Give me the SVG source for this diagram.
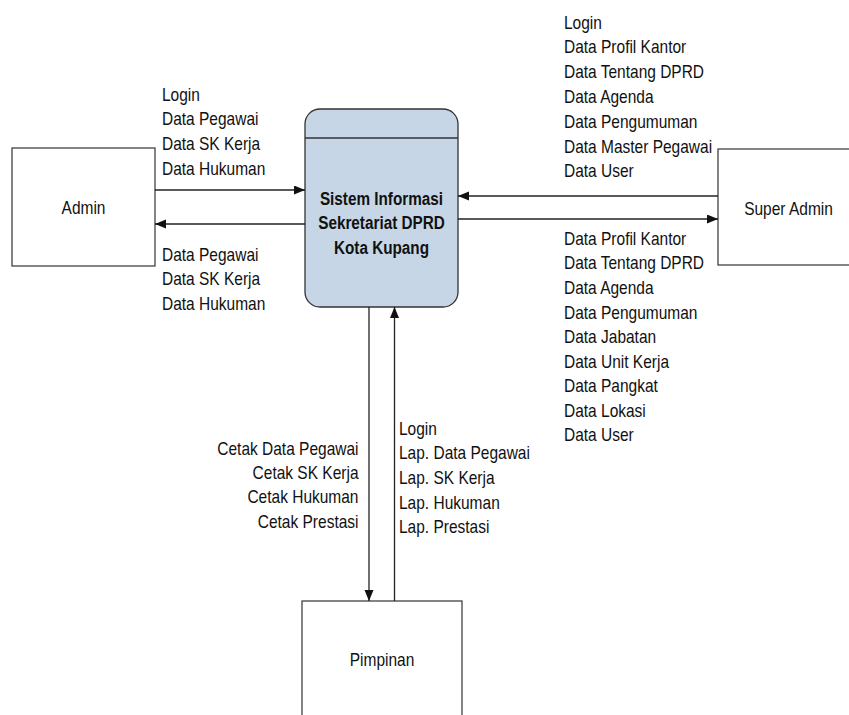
<svg xmlns="http://www.w3.org/2000/svg" width="849" height="715" viewBox="0 0 849 715">
<style>
.ent{fill:#fff;stroke:#333;stroke-width:1.2}
.proc{fill:#c7d6e6;stroke:#333;stroke-width:1.3}
.lbl{font-family:"Liberation Sans",Arial,sans-serif;font-size:15.5px;fill:#111}
.bold{font-family:"Liberation Sans",Arial,sans-serif;font-size:15.3px;font-weight:bold;fill:#111;text-anchor:middle}
.flow{stroke:#222;stroke-width:1.3;fill:none;marker-end:url(#arr)}
</style>
<defs>
<marker id="arr" markerUnits="userSpaceOnUse" markerWidth="12" markerHeight="10" refX="11" refY="4.5" orient="auto">
<path d="M0,0 L11,4.5 L0,9 z" fill="#111"/>
</marker>
</defs>
<rect width="849" height="715" fill="#fff"/>

<g id="process">
<rect class="proc" x="305" y="109" width="153" height="198" rx="15" ry="15"/>
<line x1="305" y1="138" x2="458" y2="138" stroke="#333" stroke-width="1.3"/>
<text class="bold" transform="translate(381.5,205) scale(1,1.22)"><tspan x="0" y="0">Sistem Informasi</tspan><tspan x="0" y="19.9">Sekretariat DPRD</tspan><tspan x="0" y="39.8">Kota Kupang</tspan></text>
</g>

<g id="admin">
<rect class="ent" x="12" y="148" width="143" height="118"/>
<text class="lbl" text-anchor="middle" transform="translate(83.5,214) scale(1,1.2)">Admin</text>
</g>

<g id="superadmin">
<rect class="ent" x="718" y="149" width="145" height="116"/>
<text class="lbl" text-anchor="middle" transform="translate(788.5,215) scale(1,1.2)">Super Admin</text>
</g>

<g id="pimpinan">
<rect class="ent" x="302" y="601" width="160" height="130"/>
<text class="lbl" text-anchor="middle" transform="translate(382,666) scale(1,1.2)">Pimpinan</text>
</g>

<g id="connectors">
<line class="flow" x1="155" y1="190" x2="305" y2="190"/>
<line class="flow" x1="305" y1="224" x2="155" y2="224"/>
<line class="flow" x1="718" y1="196" x2="458" y2="196"/>
<line class="flow" x1="458" y1="219" x2="718" y2="219"/>
<line class="flow" x1="369" y1="307" x2="369" y2="601"/>
<line class="flow" x1="394.5" y1="601" x2="394.5" y2="307"/>
</g>

<g id="labels">
<text class="lbl" transform="translate(162,101) scale(1,1.2)"><tspan x="0" y="0">Login</tspan><tspan x="0" y="20.42">Data Pegawai</tspan><tspan x="0" y="40.84">Data SK Kerja</tspan><tspan x="0" y="61.26">Data Hukuman</tspan></text>
<text class="lbl" transform="translate(162,261) scale(1,1.2)"><tspan x="0" y="0">Data Pegawai</tspan><tspan x="0" y="20.42">Data SK Kerja</tspan><tspan x="0" y="40.84">Data Hukuman</tspan></text>
<text class="lbl" transform="translate(564,28.5) scale(1,1.2)"><tspan x="0" y="0">Login</tspan><tspan x="0" y="20.67">Data Profil Kantor</tspan><tspan x="0" y="41.34">Data Tentang DPRD</tspan><tspan x="0" y="62.01">Data Agenda</tspan><tspan x="0" y="82.68">Data Pengumuman</tspan><tspan x="0" y="103.35">Data Master Pegawai</tspan><tspan x="0" y="124.02">Data User</tspan></text>
<text class="lbl" transform="translate(564,245) scale(1,1.2)"><tspan x="0" y="0">Data Profil Kantor</tspan><tspan x="0" y="20.42">Data Tentang DPRD</tspan><tspan x="0" y="40.84">Data Agenda</tspan><tspan x="0" y="61.26">Data Pengumuman</tspan><tspan x="0" y="81.68">Data Jabatan</tspan><tspan x="0" y="102.1">Data Unit Kerja</tspan><tspan x="0" y="122.52">Data Pangkat</tspan><tspan x="0" y="142.94">Data Lokasi</tspan><tspan x="0" y="163.36">Data User</tspan></text>
<text class="lbl" text-anchor="end" transform="translate(358.5,454.5) scale(1,1.2)"><tspan x="0" y="0">Cetak Data Pegawai</tspan><tspan x="0" y="20.42">Cetak SK Kerja</tspan><tspan x="0" y="40.84">Cetak Hukuman</tspan><tspan x="0" y="61.26">Cetak Prestasi</tspan></text>
<text class="lbl" transform="translate(399,435) scale(1,1.2)"><tspan x="0" y="0">Login</tspan><tspan x="0" y="20.42">Lap. Data Pegawai</tspan><tspan x="0" y="40.84">Lap. SK Kerja</tspan><tspan x="0" y="61.26">Lap. Hukuman</tspan><tspan x="0" y="81.68">Lap. Prestasi</tspan></text>
</g>
</svg>
